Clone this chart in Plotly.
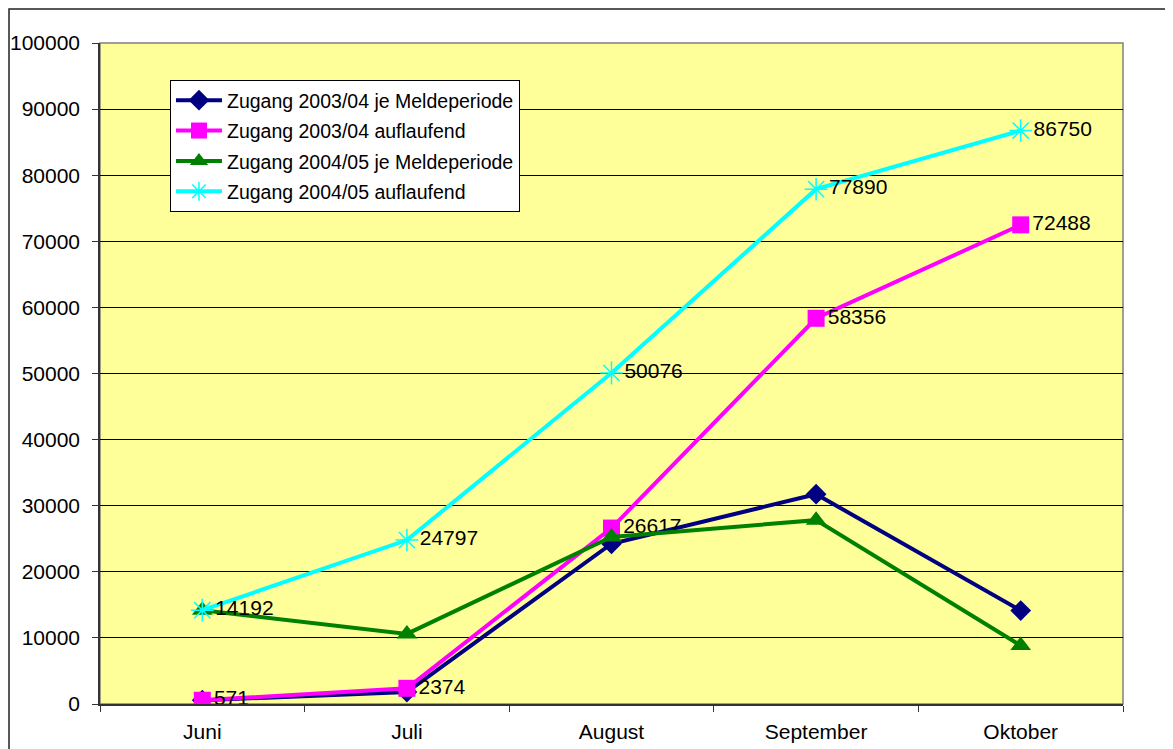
import plotly.graph_objects as go

months = ["Juni", "Juli", "August", "September", "Oktober"]
s1_name = "Zugang 2003/04 je Meldeperiode"
s1 = [571, 1803, 24243, 31739, 14132]
s2_name = "Zugang 2003/04 auflaufend"
s2 = [571, 2374, 26617, 58356, 72488]
s3_name = "Zugang 2004/05 je Meldeperiode"
s3 = [14192, 10605, 25279, 27814, 8860]
s4_name = "Zugang 2004/05 auflaufend"
s4 = [14192, 24797, 50076, 77890, 86750]
y_ticks = list(range(0, 100001, 10000))

FONT = "Liberation Sans, Arial, sans-serif"
fig = go.Figure()

fig.add_trace(go.Scatter(x=months, y=s1, name=s1_name, mode="lines+markers", legendgroup="a",
                         line=dict(color="#000080", width=4),
                         marker=dict(symbol="diamond", size=16, color="#000080")))
fig.add_trace(go.Scatter(x=months, y=s2, name=s2_name, mode="lines+markers+text", legendgroup="b",
                         line=dict(color="#FF00FF", width=4),
                         marker=dict(symbol="square", size=17, color="#FF00FF"),
                         text=[str(v) for v in s2], textposition="middle right",
                         textfont=dict(size=21, color="black", family=FONT)))
fig.add_trace(go.Scatter(x=months, y=s3, name=s3_name, mode="lines+markers", legendgroup="c",
                         line=dict(color="#008000", width=4),
                         marker=dict(symbol="triangle-up", size=18, color="#008000")))
fig.add_trace(go.Scatter(x=months, y=s4, name=s4_name, mode="lines+markers+text", legendgroup="d",
                         line=dict(color="#00FFFF", width=4),
                         marker=dict(symbol="asterisk-open", size=19, color="#00FFFF",
                                     line=dict(color="#00FFFF", width=1.5)),
                         text=[str(v) for v in s4], textposition="middle right",
                         textfont=dict(size=21, color="black", family=FONT)))

fig.update_layout(
    width=1173, height=749,
    margin=dict(l=92, r=58, t=35, b=53, autoexpand=False),
    paper_bgcolor="white",
    plot_bgcolor="#FFFF99",
    font=dict(family=FONT, size=21, color="black"),
    showlegend=True,
    legend=dict(x=0.0684, y=0.944, xanchor="left", yanchor="top",
                bgcolor="white", bordercolor="black", borderwidth=1,
                font=dict(size=19.5, family=FONT), tracegroupgap=2,
                itemwidth=46),
    xaxis=dict(type="category", range=[-0.5, 4.5], showgrid=False, automargin=False,
               tickson="boundaries", ticks="outside", ticklen=6, tickcolor="#333333",
               showline=True, linecolor="#333333", linewidth=1.5, mirror=False,
               ticklabelstandoff=8, tickfont=dict(size=21)),
    yaxis=dict(range=[0, 100000], tickvals=y_ticks, ticktext=[str(v) for v in y_ticks],
               showgrid=True, gridcolor="black", gridwidth=1, automargin=False,
               ticks="outside", ticklen=6, tickcolor="#333333",
               showline=True, linecolor="#333333", linewidth=1.5,
               zeroline=False, ticklabelstandoff=8, tickfont=dict(size=21)),
    shapes=[
        dict(type="rect", xref="paper", yref="paper", x0=0, x1=1, y0=0, y1=1,
             line=dict(color="#808080", width=1.5), layer="below"),
        dict(type="rect", xref="paper", yref="paper",
             x0=(1 - 92) / 1023, x1=1.2, y0=-0.2, y1=(696 - 1) / 661,
             line=dict(color="#222222", width=1.5), layer="below"),
    ],
)

fig.write_html("out.html")
